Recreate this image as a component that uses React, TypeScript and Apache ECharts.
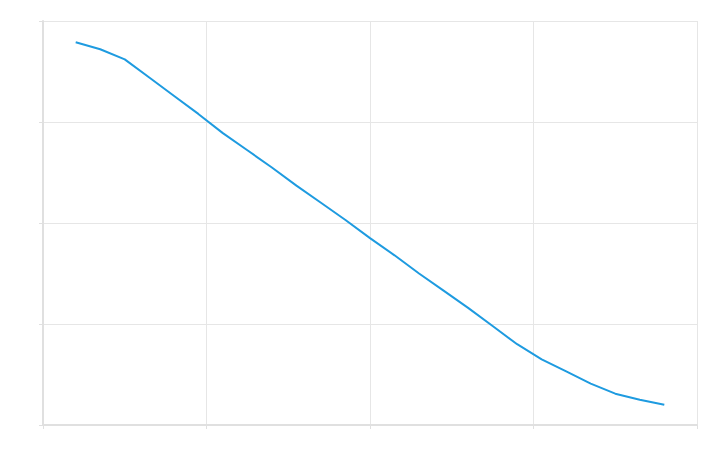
import React, { useEffect, useRef } from "react";
import * as echarts from "echarts";

const xValues = [0.2, 0.35, 0.5, 0.65, 0.8, 0.95, 1.1, 1.25, 1.4, 1.55, 1.7, 1.85, 2.0, 2.15, 2.3, 2.45, 2.6, 2.75, 2.9, 3.05, 3.2, 3.35, 3.5, 3.65, 3.8];
const yValues = [3.79, 3.72, 3.62, 3.44, 3.26, 3.08, 2.89, 2.72, 2.55, 2.37, 2.2, 2.03, 1.85, 1.68, 1.5, 1.33, 1.16, 0.98, 0.8, 0.65, 0.53, 0.41, 0.31, 0.25, 0.2];

export default function App() {
  const ref = useRef<HTMLDivElement>(null);
  useEffect(() => {
    if (!ref.current) return;
    const chart = echarts.init(ref.current, undefined, { renderer: "svg" });
    const data = xValues.map((x, i) => [x, yValues[i]]);
    const axisCommon = {
      type: "value" as const,
      min: 0,
      max: 4,
      interval: 1,
      axisLabel: { show: false },
      axisLine: { show: true, lineStyle: { color: "#e0e0e0", width: 2 } },
      axisTick: { show: true, length: 4, lineStyle: { color: "#e0e0e0", width: 1 } },
      splitLine: { show: true, lineStyle: { color: "#e6e6e6", width: 1 } },
    };
    chart.setOption({
      animation: false,
      grid: { left: 35, top: 13, width: 654, height: 404, containLabel: false },
      xAxis: { ...axisCommon },
      yAxis: { ...axisCommon },
      series: [
        {
          type: "line",
          data,
          showSymbol: false,
          symbol: "none",
          lineStyle: { color: "#1e9be0", width: 2 },
        },
      ],
    });
    return () => chart.dispose();
  }, []);
  return <div ref={ref} style={{ width: 705, height: 439 }} />;
}
